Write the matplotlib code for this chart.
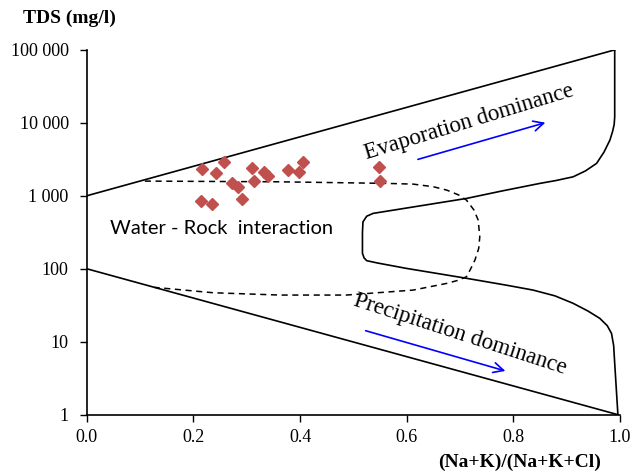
import matplotlib
matplotlib.use("Agg")
import matplotlib.pyplot as plt
from matplotlib.ticker import FixedLocator, FixedFormatter, NullLocator

# Sample data: ratio (Na+K)/(Na+K+Cl) and TDS (mg/l)
ratio = [0.217, 0.258, 0.242, 0.309, 0.333, 0.339, 0.273, 0.283, 0.314,
         0.292, 0.214, 0.234, 0.377, 0.405, 0.398, 0.548, 0.550]
tds = [2320, 2860, 2080, 2440, 2150, 1840, 1490, 1340, 1600,
       900, 836, 777, 2270, 2860, 2110, 2470, 1620]

# Gibbs diagram boundaries
upper_x = [0.0, 0.990]
upper_y = [1000, 100000]
lower_x = [0.0, 0.996]
lower_y = [100, 1]
right_x = [0.990, 0.990, 0.989, 0.986, 0.981, 0.970, 0.956, 0.935, 0.912, 0.880, 0.850,
           0.780, 0.712, 0.537, 0.525, 0.518, 0.517, 0.517, 0.520, 0.525, 0.545, 0.600,
           0.712, 0.790, 0.837, 0.878, 0.912, 0.940, 0.962, 0.976, 0.984, 0.988, 0.990, 0.996]
right_y = [100000, 12100, 9500, 7600, 5800, 3980, 2780, 2190, 1820, 1620, 1480,
           1170, 920, 574, 525, 440, 316, 163, 141, 129, 120, 101,
           74, 59, 51, 42.5, 33.6, 26.3, 20.9, 16.6, 13.0, 8.9, 5.06, 1.0]
dash_x = [0.109, 0.362, 0.560, 0.612, 0.650, 0.675, 0.697, 0.712, 0.726, 0.734, 0.737,
          0.735, 0.728, 0.720, 0.712, 0.695, 0.675, 0.612, 0.487, 0.362, 0.237, 0.127]
dash_y = [1590, 1555, 1480, 1446, 1330, 1197, 1030, 873, 640, 465, 274,
          190, 132, 100, 77.6, 69, 63, 51, 43.6, 43.6, 46.9, 55.6]

ytick_vals = [1, 10, 100, 1000, 10000, 100000]
ytick_labels = ["1", "10", "100", "1 000", "10 000", "100 000"]
xtick_vals = [0.0, 0.2, 0.4, 0.6, 0.8, 1.0]
xtick_labels = ["0.0", "0.2", "0.4", "0.6", "0.8", "1.0"]

fig = plt.figure(figsize=(6.41, 4.75), dpi=100)
ax = fig.add_axes([0.1353, 0.127, 0.832, 0.768])

ax.plot(upper_x, upper_y, color="black", lw=1.2)
ax.plot(lower_x, lower_y, color="black", lw=1.2)
ax.plot(right_x, right_y, color="black", lw=1.2, solid_joinstyle="round")
ax.plot(dash_x, dash_y, color="black", lw=1.1, linestyle=(0, (4, 3)))

ax.plot(ratio, tds, linestyle="none", marker="D", markersize=6.5,
        color="#C0504D", markeredgecolor="#C0504D")

ax.annotate("", xy=(0.865, 10300), xytext=(0.616, 3080),
            arrowprops=dict(arrowstyle="->", color="blue", lw=1.2, mutation_scale=18))
ax.annotate("", xy=(0.790, 3.88), xytext=(0.518, 14.5),
            arrowprops=dict(arrowstyle="->", color="blue", lw=1.2, mutation_scale=18))

ax.text(0.717, 10200, "Evaporation dominance", rotation=17, ha="center", va="center",
        fontsize=16.5, family="Liberation Serif", rotation_mode="anchor")
ax.text(0.700, 12.5, "Precipitation dominance", rotation=-18, ha="center", va="center",
        fontsize=16.5, family="Liberation Serif", rotation_mode="anchor")
ax.text(0.252, 360, "Water - Rock  interaction", ha="center", va="center",
        fontsize=14.5, family="Lato")

ax.set_yscale("log")
ax.set_xlim(0, 1.0)
ax.set_ylim(1, 100000)
ax.yaxis.set_major_locator(FixedLocator(ytick_vals))
ax.yaxis.set_major_formatter(FixedFormatter(ytick_labels))
ax.yaxis.set_minor_locator(NullLocator())
ax.xaxis.set_major_locator(FixedLocator(xtick_vals))
ax.xaxis.set_major_formatter(FixedFormatter(xtick_labels))

for side in ("top", "right"):
    ax.spines[side].set_visible(False)
for side in ("left", "bottom"):
    ax.spines[side].set_linewidth(1.2)
ax.tick_params(direction="out", length=5, width=1.0, labelsize=13)
ax.tick_params(axis="y", pad=8)
ax.tick_params(axis="x", pad=5)
for lab in ax.get_xticklabels() + ax.get_yticklabels():
    lab.set_family("Liberation Serif")

fig.text(0.109, 0.962, "TDS (mg/l)", fontsize=14, fontweight="bold",
         family="Liberation Serif", ha="center", va="center")
fig.text(0.81, 0.026, "(Na+K)/(Na+K+Cl)", fontsize=14, fontweight="bold",
         family="Liberation Serif", ha="center", va="center")

fig.savefig("out.png", dpi=100)
